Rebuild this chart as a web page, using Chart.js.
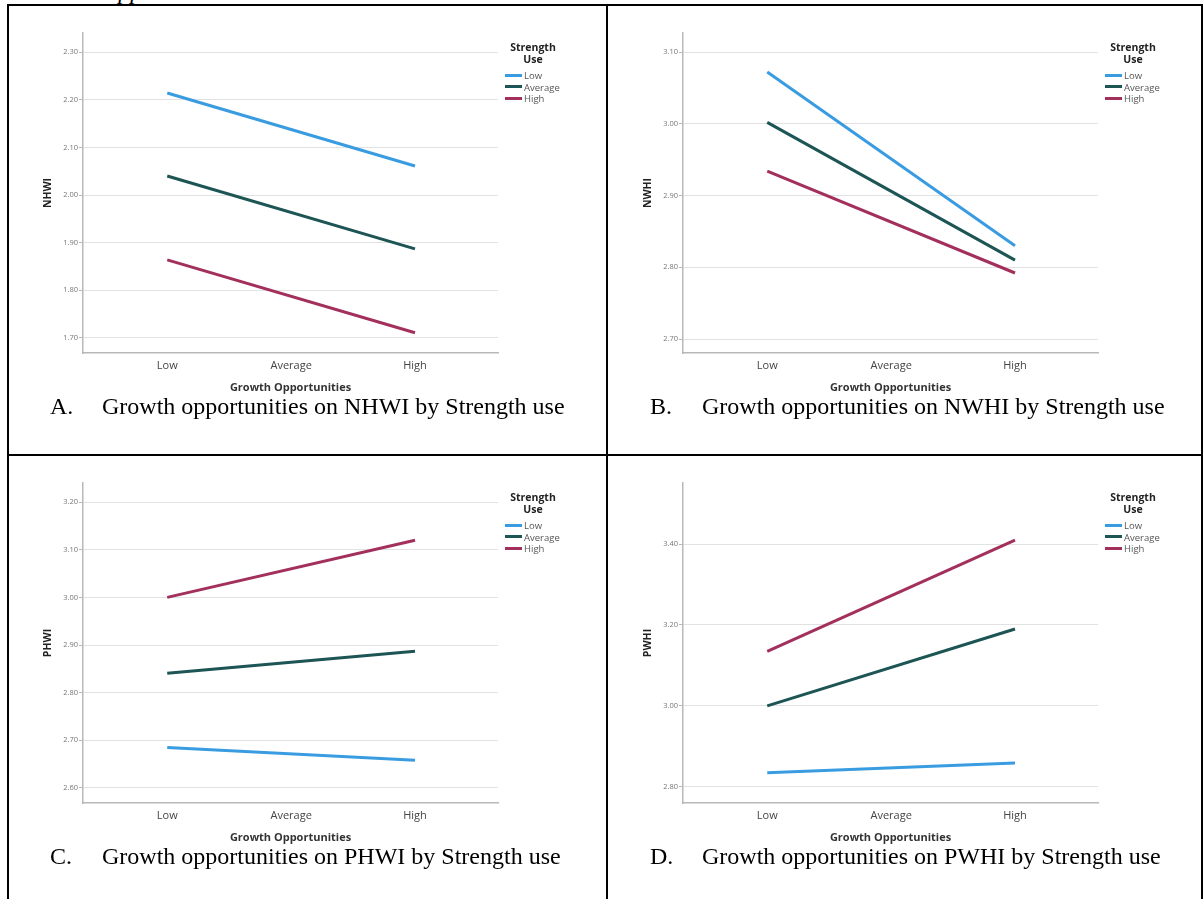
<!DOCTYPE html>
<html><head><meta charset="utf-8">
<script src="https://cdn.jsdelivr.net/npm/chart.js@4.4.1/dist/chart.umd.min.js"></script>
<style>
html,body{margin:0;padding:0;background:#fff;}
body{width:1203px;height:899px;position:relative;overflow:hidden;font-family:"Open Sans",sans-serif;}
.b{position:absolute;background:#000;}
canvas{position:absolute;}
.lt{position:absolute;width:60px;text-align:center;font-weight:bold;font-size:10.5px;line-height:12px;color:#222;}
.li{position:absolute;font-size:9.5px;line-height:11.5px;color:#555;white-space:nowrap;}
.li span{display:inline-block;width:17px;height:3px;vertical-align:middle;margin-right:2px;position:relative;top:-1px;}
.cap{position:absolute;font-family:"Liberation Serif","Times New Roman",serif;font-size:24px;line-height:26px;color:#000;white-space:nowrap;}
.topcut{position:absolute;font-family:"Liberation Serif","Times New Roman",serif;font-style:italic;font-size:24px;line-height:24px;white-space:nowrap;}
</style></head><body>
<div class="topcut" style="left:101px;top:-21px;">Opportunities</div>
<div class="b" style="left:7px;top:4px;width:1196px;height:2px;"></div>
<div class="b" style="left:7px;top:4px;width:2px;height:895px;"></div>
<div class="b" style="left:606px;top:4px;width:2px;height:895px;"></div>
<div class="b" style="left:1201px;top:4px;width:2px;height:895px;"></div>
<div class="b" style="left:7px;top:454px;width:1196px;height:2px;"></div>
<script>
// ---- data ----
const categories = ['Low', 'Average', 'High'];        // x-axis categories (Growth Opportunities)
const pointCats = ['Low', 'High'];                    // categories where values are plotted
const seriesNames = ['Low', 'Average', 'High'];       // Strength Use levels
const seriesColors = ['#3a9ce0', '#1d5454', '#a3305c'];

// A. NHWI
const nhwiLow  = [2.214, 2.061];
const nhwiAvg  = [2.040, 1.887];
const nhwiHigh = [1.864, 1.711];
const nhwiTicks = [1.70, 1.80, 1.90, 2.00, 2.10, 2.20, 2.30];
// B. NWHI
const nwhiLow  = [3.072, 2.830];
const nwhiAvg  = [3.002, 2.810];
const nwhiHigh = [2.934, 2.792];
const nwhiTicks = [2.70, 2.80, 2.90, 3.00, 3.10];
// C. PHWI
const phwiLow  = [2.685, 2.658];
const phwiAvg  = [2.841, 2.887];
const phwiHigh = [3.000, 3.120];
const phwiTicks = [2.60, 2.70, 2.80, 2.90, 3.00, 3.10, 3.20];
// D. PWHI
const pwhiLow  = [2.835, 2.859];
const pwhiAvg  = [3.000, 3.190];
const pwhiHigh = [3.135, 3.410];
const pwhiTicks = [2.80, 3.00, 3.20, 3.40];

const legendTitle = ['Strength', 'Use'];
const xTitle = 'Growth Opportunities';

const panels = [
  {ox:0,   oy:0,   yTitle:'NHWI', letter:'A.', caption:'Growth opportunities on NHWI by Strength use', series:[nhwiLow,nhwiAvg,nhwiHigh], ticks:nhwiTicks, yMin:1.6685, yMax:2.34},
  {ox:600, oy:0,   yTitle:'NWHI', letter:'B.', caption:'Growth opportunities on NWHI by Strength use', series:[nwhiLow,nwhiAvg,nwhiHigh], ticks:nwhiTicks, yMin:2.6805, yMax:3.1265},
  {ox:0,   oy:450, yTitle:'PHWI', letter:'C.', caption:'Growth opportunities on PHWI by Strength use', series:[phwiLow,phwiAvg,phwiHigh], ticks:phwiTicks, yMin:2.5685, yMax:3.24},
  {ox:600, oy:450, yTitle:'PWHI', letter:'D.', caption:'Growth opportunities on PWHI by Strength use', series:[pwhiLow,pwhiAvg,pwhiHigh], ticks:pwhiTicks, yMin:2.76, yMax:3.551}
];

function el(cls, style, html){
  const d = document.createElement('div');
  d.className = cls; d.setAttribute('style', style); d.innerHTML = html;
  document.body.appendChild(d); return d;
}

panels.forEach(p => {
  const cv = document.createElement('canvas');
  cv.width = 505; cv.height = 380;
  cv.style.left = (p.ox + 8) + 'px'; cv.style.top = (p.oy + 20) + 'px';
  cv.style.width = '505px'; cv.style.height = '380px';
  document.body.appendChild(cv);
  new Chart(cv, {
    type: 'line',
    data: {
      datasets: seriesNames.map((n, i) => ({
        label: n,
        data: pointCats.map((c, j) => ({x: categories.indexOf(c), y: p.series[i][j]})),
        borderColor: seriesColors[i], backgroundColor: seriesColors[i],
        borderWidth: 3, pointRadius: 0, fill: false, tension: 0
      }))
    },
    options: {
      responsive: false, animation: false, devicePixelRatio: 1,
      layout: {padding: {top: 13, right: 15, bottom: 0, left: 0}},
      plugins: {legend: {display: false}, tooltip: {enabled: false}},
      scales: {
        x: {
          type: 'linear', min: -0.68, max: 2.67,
          afterBuildTicks: s => { s.ticks = categories.map((c, i) => ({value: i})); },
          ticks: {callback: v => categories[v], font: {family: 'Open Sans', size: 11}, color: '#444', padding: 6.4, maxRotation: 0, autoSkip: false},
          grid: {display: false, drawTicks: false},
          border: {display: true, color: '#b8b8b8', width: 1.5},
          title: {display: true, text: xTitle, font: {family: 'Open Sans', size: 11, weight: 'bold'}, color: '#333', padding: {top: 0, bottom: 5.4}},
          afterFit: s => { s.height = 47; }
        },
        y: {
          type: 'linear', min: p.yMin, max: p.yMax,
          afterBuildTicks: s => { s.ticks = p.ticks.map(v => ({value: v})); },
          ticks: {callback: v => Number(v).toFixed(2), font: {family: 'Open Sans', size: 7.5}, color: '#777', padding: 1, autoSkip: false},
          grid: {color: '#e2e2e2', lineWidth: 1, drawTicks: true, tickLength: 4, tickColor: '#b8b8b8'},
          border: {display: true, color: '#b8b8b8', width: 1.5},
          title: {display: true, text: p.yTitle, font: {family: 'Open Sans', size: 10.5, weight: 'bold'}, color: '#222', padding: {top: 33.7, bottom: 0}},
          afterFit: s => { s.width = 75; }
        }
      }
    }
  });
  // legend
  el('lt', `left:${p.ox + 503}px;top:${p.oy + 41}px;`, legendTitle.join('<br>'));
  seriesNames.forEach((n, i) => {
    el('li', `left:${p.ox + 505}px;top:${p.oy + 70 + i * 11.5}px;`, `<span style="background:${seriesColors[i]}"></span>${n}`);
  });
  // caption
  el('cap', `left:${p.ox + 50}px;top:${p.oy + 393}px;`, p.letter);
  el('cap', `left:${p.ox + 102}px;top:${p.oy + 393}px;`, p.caption);
});
</script>
</body></html>
